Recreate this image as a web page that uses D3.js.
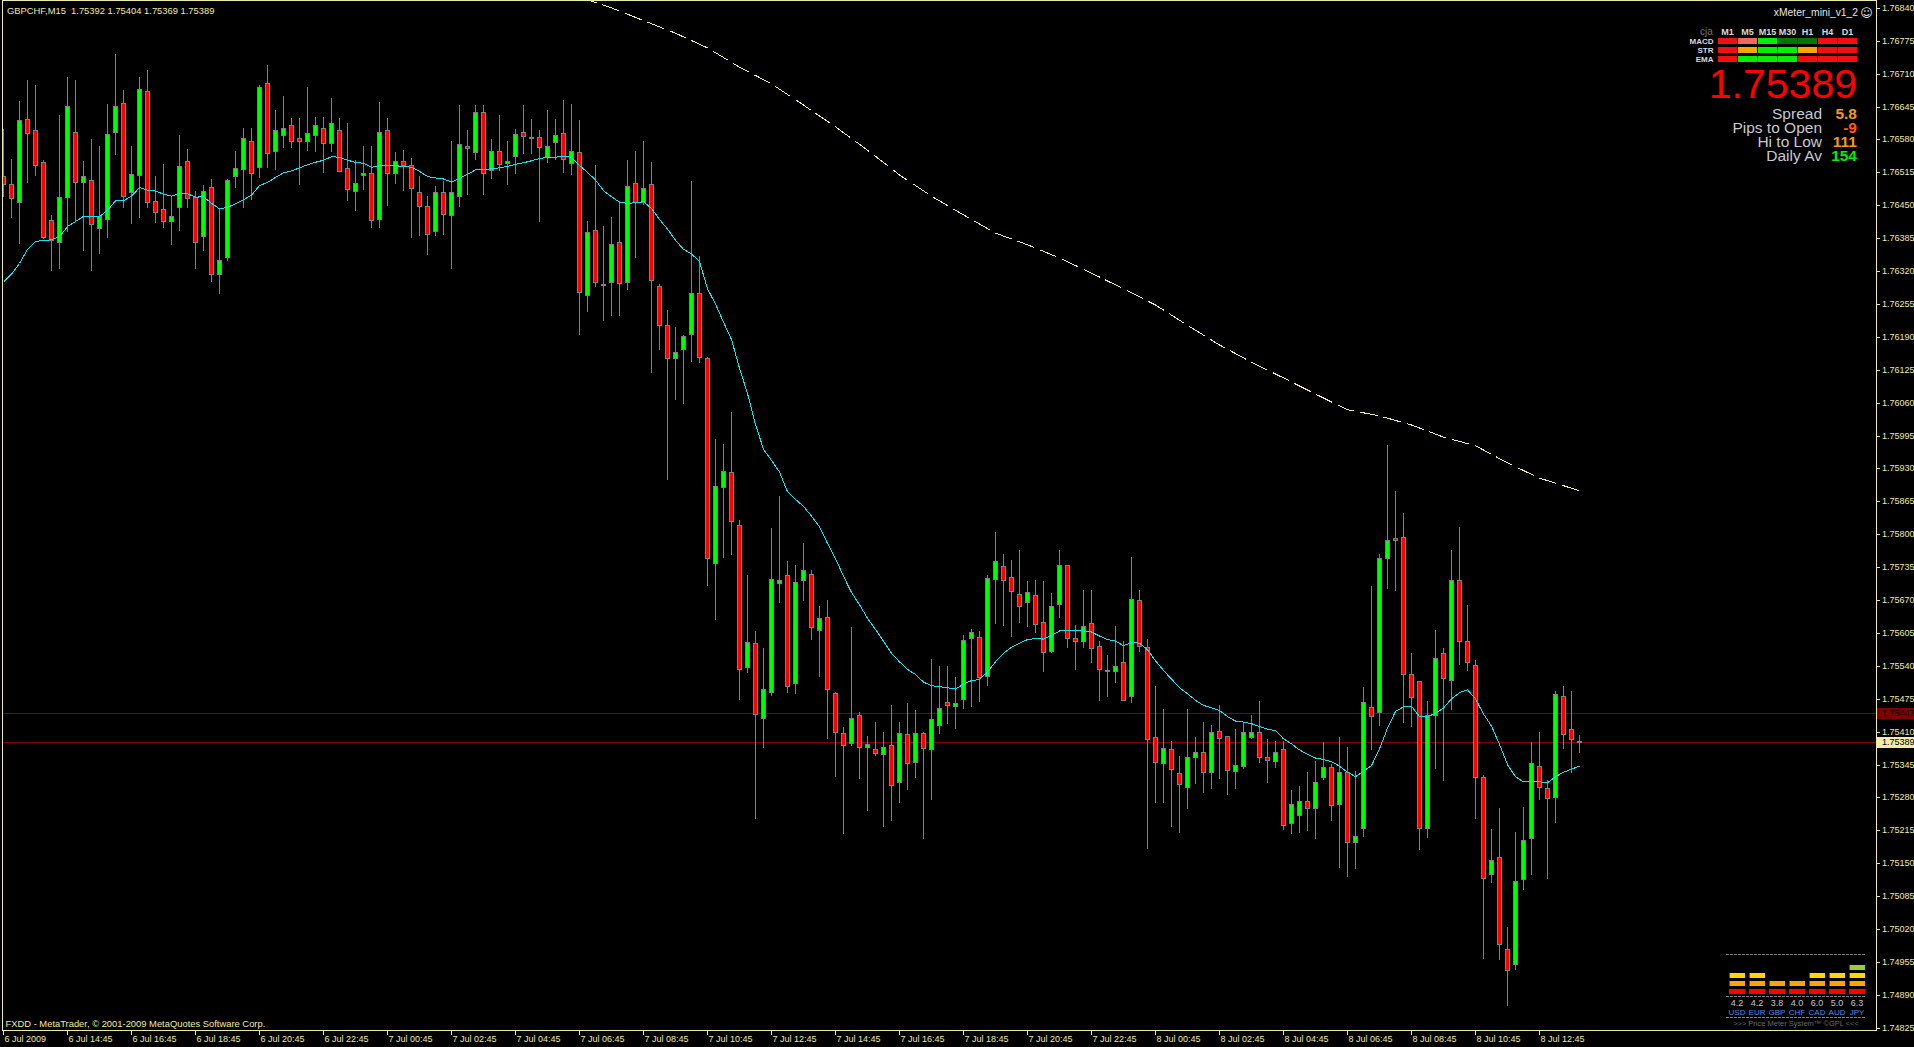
<!DOCTYPE html>
<html><head><meta charset="utf-8">
<script src="https://cdn.jsdelivr.net/npm/d3@7"></script>
<style>
html,body{margin:0;padding:0;background:#000;overflow:hidden}
svg{display:block}
text{font-family:"Liberation Sans",Arial,sans-serif}
</style></head><body>
<svg id="c" width="1914" height="1047"></svg>
<script>
// ---------------- DATA ----------------
const symbolTitle = "GBPCHF,M15  1.75392 1.75404 1.75369 1.75389";
const copyright = "FXDD - MetaTrader, \u00A9 2001-2009 MetaQuotes Software Corp.";
const firstBarTime = new Date(2009, 6, 6, 12, 45); // 15-minute bars
const open = [1.76507,1.76492,1.76457,1.76620,1.76598,1.76535,1.76420,1.76377,1.76466,1.76594,
1.76497,1.76499,1.76406,1.76422,1.76594,1.76653,1.76476,1.76509,1.76675,1.76458,
1.76442,1.76418,1.76446,1.76537,1.76466,1.76389,1.76487,1.76315,1.76347,1.76507,
1.76521,1.76578,1.76525,1.76691,1.76557,1.76588,1.76608,1.76582,1.76578,1.76588,
1.76602,1.76574,1.76598,1.76523,1.76478,1.76509,1.76513,1.76422,1.76598,1.76513,
1.76537,1.76530,1.76477,1.76448,1.76399,1.76477,1.76431,1.76469,1.76568,1.76556,
1.76634,1.76520,1.76558,1.76533,1.76547,1.76595,1.76582,1.76584,1.76546,1.76576,
1.76593,1.76534,1.76556,1.76273,1.76402,1.76295,1.76298,1.76378,1.76298,1.76495,
1.76457,1.76493,1.76290,1.76214,1.76148,1.76166,1.76196,1.76276,1.76149,1.75743,
1.75894,1.75924,1.75819,1.75538,1.75586,1.75437,1.75489,1.75704,1.75719,1.75506,
1.75710,1.75722,1.75611,1.75637,1.75486,1.75407,1.75388,1.75443,1.75380,1.75375,
1.75365,1.75383,1.75311,1.75406,1.75350,1.75407,1.75376,1.75424,1.75469,1.75461,
1.75475,1.75595,1.75597,1.75521,1.75711,1.75737,1.75716,1.75683,1.75667,1.75681,
1.75627,1.75569,1.75663,1.75739,1.75595,1.75589,1.75624,1.75579,1.75531,1.75530,
1.75547,1.75481,1.75670,1.75578,1.75399,1.75348,1.75376,1.75328,1.75300,1.75360,
1.75370,1.75330,1.75411,1.75401,1.75332,1.75343,1.75399,1.75410,1.75360,1.75352,
1.75376,1.75230,1.75245,1.75274,1.75259,1.75320,1.75340,1.75268,1.75330,1.75192,
1.75220,1.75458,1.75448,1.75753,1.75793,1.75794,1.75524,1.75510,1.75220,1.75443,
1.75565,1.75512,1.75710,1.75590,1.75541,1.75320,1.75128,1.75162,1.74980,1.74951,
1.75118,1.75200,1.75342,1.75298,1.75281,1.75480,1.75415,1.75392];
const high = [1.76601,1.76542,1.76656,1.76698,1.76688,1.76540,1.76430,1.76628,1.76703,1.76698,
1.76537,1.76580,1.76567,1.76650,1.76749,1.76677,1.76567,1.76703,1.76717,1.76507,
1.76532,1.76468,1.76589,1.76561,1.76479,1.76490,1.76501,1.76444,1.76501,1.76557,
1.76603,1.76602,1.76688,1.76727,1.76638,1.76666,1.76622,1.76622,1.76684,1.76624,
1.76624,1.76662,1.76622,1.76613,1.76539,1.76567,1.76567,1.76654,1.76622,1.76555,
1.76560,1.76543,1.76508,1.76468,1.76488,1.76498,1.76578,1.76648,1.76598,1.76648,
1.76648,1.76580,1.76629,1.76577,1.76601,1.76648,1.76621,1.76599,1.76639,1.76621,
1.76658,1.76651,1.76619,1.76419,1.76530,1.76410,1.76426,1.76458,1.76540,1.76557,
1.76578,1.76535,1.76295,1.76243,1.76209,1.76194,1.76498,1.76349,1.76151,1.75988,
1.75978,1.76042,1.75828,1.75720,1.75609,1.75575,1.75812,1.75876,1.75748,1.75739,
1.75782,1.75729,1.75659,1.75671,1.75488,1.75420,1.75616,1.75449,1.75402,1.75430,
1.75410,1.75463,1.75429,1.75467,1.75453,1.75409,1.75554,1.75540,1.75540,1.75519,
1.75602,1.75612,1.75609,1.75720,1.75804,1.75761,1.75750,1.75769,1.75708,1.75710,
1.75708,1.75684,1.75769,1.75740,1.75620,1.75689,1.75689,1.75589,1.75561,1.75618,
1.75589,1.75755,1.75690,1.75593,1.75501,1.75455,1.75391,1.75362,1.75455,1.75400,
1.75429,1.75423,1.75463,1.75401,1.75415,1.75429,1.75443,1.75470,1.75395,1.75391,
1.75392,1.75294,1.75302,1.75331,1.75353,1.75389,1.75346,1.75400,1.75379,1.75333,
1.75499,1.75698,1.75761,1.75977,1.75885,1.75842,1.75565,1.75510,1.75471,1.75610,
1.75575,1.75768,1.75814,1.75661,1.75552,1.75324,1.75217,1.75259,1.75024,1.75211,
1.75262,1.75389,1.75410,1.75315,1.75491,1.75500,1.75491,1.75404];
const low = [1.76469,1.76426,1.76376,1.76497,1.76510,1.76386,1.76323,1.76327,1.76400,1.76421,
1.76362,1.76323,1.76356,1.76388,1.76552,1.76446,1.76416,1.76426,1.76447,1.76417,
1.76408,1.76374,1.76402,1.76446,1.76327,1.76362,1.76301,1.76277,1.76341,1.76487,
1.76447,1.76462,1.76505,1.76525,1.76522,1.76566,1.76566,1.76493,1.76559,1.76558,
1.76516,1.76557,1.76517,1.76461,1.76441,1.76483,1.76408,1.76408,1.76451,1.76494,
1.76481,1.76388,1.76392,1.76353,1.76392,1.76394,1.76327,1.76449,1.76472,1.76541,
1.76473,1.76503,1.76519,1.76493,1.76513,1.76554,1.76554,1.76418,1.76535,1.76542,
1.76516,1.76511,1.76196,1.76242,1.76290,1.76223,1.76233,1.76233,1.76284,1.76347,
1.76452,1.76120,1.76167,1.75909,1.76068,1.76059,1.76142,1.76141,1.75699,1.75633,
1.75756,1.75762,1.75474,1.75528,1.75239,1.75379,1.75483,1.75666,1.75488,1.75487,
1.75671,1.75593,1.75520,1.75398,1.75322,1.75209,1.75383,1.75318,1.75255,1.75363,
1.75223,1.75235,1.75272,1.75297,1.75320,1.75199,1.75277,1.75408,1.75428,1.75418,
1.75457,1.75460,1.75471,1.75503,1.75624,1.75621,1.75600,1.75627,1.75618,1.75606,
1.75529,1.75568,1.75637,1.75578,1.75533,1.75578,1.75548,1.75473,1.75480,1.75509,
1.75472,1.75469,1.75569,1.75181,1.75272,1.75271,1.75224,1.75211,1.75260,1.75309,
1.75290,1.75299,1.75319,1.75287,1.75299,1.75338,1.75398,1.75351,1.75310,1.75341,
1.75218,1.75209,1.75212,1.75215,1.75200,1.75317,1.75235,1.75142,1.75125,1.75141,
1.75203,1.75376,1.75423,1.75693,1.75689,1.75429,1.75421,1.75178,1.75202,1.75338,
1.75315,1.75454,1.75544,1.75531,1.75240,1.74963,1.75113,1.74960,1.74871,1.74941,
1.75100,1.75128,1.75277,1.75120,1.75232,1.75378,1.75330,1.75369];
const close = [1.76492,1.76464,1.76618,1.76592,1.76529,1.76388,1.76382,1.76466,1.76647,1.76497,
1.76507,1.76413,1.76428,1.76590,1.76647,1.76468,1.76511,1.76679,1.76456,1.76437,
1.76418,1.76428,1.76527,1.76464,1.76377,1.76478,1.76315,1.76341,1.76499,1.76523,
1.76582,1.76513,1.76683,1.76553,1.76598,1.76602,1.76578,1.76578,1.76592,1.76608,
1.76574,1.76612,1.76517,1.76483,1.76494,1.76513,1.76420,1.76594,1.76513,1.76537,
1.76530,1.76484,1.76449,1.76393,1.76477,1.76433,1.76477,1.76572,1.76564,1.76634,
1.76514,1.76558,1.76531,1.76537,1.76591,1.76586,1.76584,1.76565,1.76568,1.76588,
1.76542,1.76558,1.76279,1.76398,1.76298,1.76293,1.76374,1.76296,1.76489,1.76456,
1.76485,1.76302,1.76213,1.76148,1.76161,1.76192,1.76276,1.76150,1.75754,1.75895,
1.75925,1.75827,1.75534,1.75587,1.75444,1.75494,1.75711,1.75709,1.75500,1.75705,
1.75729,1.75616,1.75634,1.75495,1.75410,1.75384,1.75438,1.75379,1.75386,1.75368,
1.75380,1.75305,1.75407,1.75348,1.75407,1.75378,1.75436,1.75457,1.75462,1.75467,
1.75592,1.75606,1.75518,1.75714,1.75748,1.75709,1.75687,1.75658,1.75686,1.75622,
1.75567,1.75658,1.75739,1.75595,1.75589,1.75618,1.75575,1.75534,1.75529,1.75539,
1.75473,1.75673,1.75579,1.75395,1.75350,1.75378,1.75336,1.75306,1.75360,1.75370,
1.75330,1.75410,1.75397,1.75334,1.75345,1.75409,1.75410,1.75360,1.75355,1.75370,
1.75226,1.75268,1.75274,1.75259,1.75311,1.75340,1.75265,1.75330,1.75192,1.75204,
1.75469,1.75441,1.75753,1.75788,1.75788,1.75524,1.75478,1.75219,1.75443,1.75555,
1.75517,1.75710,1.75589,1.75547,1.75321,1.75121,1.75156,1.74990,1.74939,1.75116,
1.75196,1.75348,1.75300,1.75279,1.75485,1.75405,1.75395,1.75389];
const fastMA = [1.76298,1.76314,1.76335,1.76363,1.76379,1.76380,1.76382,1.76388,1.76408,1.76418,
1.76428,1.76428,1.76428,1.76440,1.76459,1.76459,1.76468,1.76485,1.76480,1.76478,
1.76472,1.76468,1.76473,1.76473,1.76466,1.76467,1.76454,1.76443,1.76446,1.76453,
1.76461,1.76470,1.76489,1.76495,1.76505,1.76514,1.76518,1.76524,1.76530,1.76535,
1.76539,1.76546,1.76545,1.76539,1.76535,1.76533,1.76525,1.76528,1.76528,1.76528,
1.76527,1.76525,1.76517,1.76507,1.76504,1.76502,1.76496,1.76503,1.76511,1.76520,
1.76521,1.76522,1.76524,1.76527,1.76531,1.76534,1.76538,1.76542,1.76545,1.76545,
1.76547,1.76545,1.76529,1.76515,1.76500,1.76479,1.76467,1.76456,1.76454,1.76455,
1.76457,1.76444,1.76422,1.76403,1.76381,1.76363,1.76354,1.76339,1.76285,1.76255,
1.76219,1.76185,1.76128,1.76078,1.76017,1.75968,1.75946,1.75923,1.75884,1.75869,
1.75855,1.75836,1.75815,1.75782,1.75752,1.75717,1.75685,1.75661,1.75634,1.75612,
1.75589,1.75565,1.75548,1.75533,1.75523,1.75508,1.75501,1.75499,1.75497,1.75494,
1.75504,1.75511,1.75513,1.75528,1.75548,1.75565,1.75577,1.75585,1.75592,1.75594,
1.75593,1.75600,1.75609,1.75610,1.75609,1.75609,1.75607,1.75599,1.75592,1.75589,
1.75580,1.75586,1.75585,1.75572,1.75550,1.75531,1.75514,1.75497,1.75485,1.75472,
1.75462,1.75457,1.75452,1.75440,1.75431,1.75429,1.75426,1.75420,1.75415,1.75412,
1.75396,1.75386,1.75374,1.75365,1.75358,1.75355,1.75351,1.75342,1.75330,1.75321,
1.75332,1.75343,1.75376,1.75417,1.75450,1.75459,1.75460,1.75440,1.75440,1.75446,
1.75457,1.75475,1.75487,1.75493,1.75475,1.75445,1.75421,1.75385,1.75345,1.75321,
1.75311,1.75311,1.75311,1.75309,1.75321,1.75330,1.75336,1.75342];
const slowMABars = [72,76,80,84,88,92,96,100,104,108,112,116,120,124,128,132,136,140,144,148,152,156,160,164,168,172,176,180,184,188,192,197];
const slowMAValues = [1.76861,1.76840,1.76815,1.76790,1.76761,1.76723,1.76690,1.76648,1.76605,1.76559,1.76510,1.76468,1.76431,1.76395,1.76372,1.76346,1.76316,1.76285,1.76253,1.76213,1.76174,1.76140,1.76109,1.76077,1.76046,1.76034,1.76016,1.75992,1.75975,1.75941,1.75911,1.75886];
const askPrice = 1.75447, bidPrice = 1.75389;
const timeTickBars = [0,8,16,24,32,40,48,56,64,72,80,88,96,104,112,120,128,136,144,152,160,168,176,184,192];
const timeTickLabels = ["6 Jul 2009","6 Jul 14:45","6 Jul 16:45","6 Jul 18:45","6 Jul 20:45","6 Jul 22:45",
 "7 Jul 00:45","7 Jul 02:45","7 Jul 04:45","7 Jul 06:45","7 Jul 08:45","7 Jul 10:45","7 Jul 12:45",
 "7 Jul 14:45","7 Jul 16:45","7 Jul 18:45","7 Jul 20:45","7 Jul 22:45","8 Jul 00:45","8 Jul 02:45",
 "8 Jul 04:45","8 Jul 06:45","8 Jul 08:45","8 Jul 10:45","8 Jul 12:45"];
const priceMin = 1.74825, priceMax = 1.76840, priceStep = 0.00065;
// xMeter panel
const meterTitle = "xMeter_mini_v1_2";
const timeframes = ["M1","M5","M15","M30","H1","H4","D1"];
const signalRows = ["MACD","STR","EMA"];
const signalStates = [
  ["dn","dn2","up","up2","up2","dn","dn"],
  ["dn","flat","up","up","flat","dn","dn"],
  ["dn","up","up","up","dn","dn","dn"]];
const bigPrice = "1.75389";
const infoLabels = ["Spread","Pips to Open","Hi to Low","Daily Av"];
const infoValues = ["5.8","-9","111","154"];
const infoKinds = ["warn","neg","warn","good"];
// price meter
const currencies = ["USD","EUR","GBP","CHF","CAD","AUD","JPY"];
const currencyStrength = ["4.2","4.2","3.8","4.0","6.0","5.0","6.3"];
const currencyLevels = [3,3,2,2,3,3,4];
const meterCaption = ">>> Price Meter System\u2122 \u00A9GPL <<<";

// ---------------- DRAW ----------------
const W = 1914, H = 1047, FG = "#EEE8AA";
const svg = d3.select("#c");
svg.append("rect").attr("width", W).attr("height", H).attr("fill", "#000");
const barTimes = open.map((d, i) => d3.timeMinute.offset(firstBarTime, 15 * i));

const x = d3.scaleLinear().domain([0, open.length - 1]).range([3.5, 3.5 + 8 * (open.length - 1)]);
const y = d3.scaleLinear().domain([priceMin, priceMax]).range([1027.8, 7.9]);
const yr = y.copy().interpolate(d3.interpolateRound);

svg.append("defs").append("clipPath").attr("id", "pc")
  .append("rect").attr("x", 3).attr("y", 1).attr("width", 1873).attr("height", 1029);
const g = svg.append("g").attr("clip-path", "url(#pc)").attr("shape-rendering", "crispEdges");

// bid / ask lines
[askPrice, bidPrice].forEach(p => {
  g.append("line").attr("x1", 3).attr("x2", 1877)
    .attr("y1", yr(p) + 0.5).attr("y2", yr(p) + 0.5)
    .attr("stroke", "#800000").attr("stroke-width", 1);
});

// slow (dashed) MA
const slowData = slowMABars.map((b, i) => [b, slowMAValues[i]]);
g.append("path").datum(slowData)
  .attr("d", d3.line().x(d => x(d[0])).y(d => y(d[1])))
  .attr("fill", "none").attr("stroke", FG).attr("stroke-width", 1)
  .attr("stroke-dasharray", "18,6");

// candles
const bars = open.map((o, i) => ({ i, t: barTimes[i], o, h: high[i], l: low[i], c: close[i] }));
const cg = g.selectAll("g.candle").data(bars).join("g").attr("class", "candle");
cg.append("line")
  .attr("x1", d => x(d.i)).attr("x2", d => x(d.i))
  .attr("y1", d => yr(d.h)).attr("y2", d => yr(d.l) + 1)
  .attr("stroke", "#808080").attr("stroke-width", 1);
cg.append("path")
  .attr("d", d => {
    const t = yr(Math.max(d.o, d.c)) + 0.5, b = yr(Math.min(d.o, d.c)) + 0.5;
    const cx = x(d.i);
    return `M${cx - 2},${t}H${cx + 2}V${b}H${cx - 2}Z`;
  })
  .attr("fill", d => d.c >= d.o ? "#00FF00" : "#FF0000")
  .attr("stroke", "#808080").attr("stroke-width", 1);

// fast MA
g.append("path").datum(fastMA)
  .attr("d", d3.line().x((d, i) => x(i)).y(d => y(d)))
  .attr("fill", "none").attr("stroke", "#12E2F2").attr("stroke-width", 1);

// frame
svg.append("rect").attr("x", 2.5).attr("y", 0.5).attr("width", 1874).attr("height", 1030)
  .attr("fill", "none").attr("stroke", FG).attr("stroke-width", 1).attr("shape-rendering", "crispEdges");

// x axis
const xAxis = d3.axisBottom(x).tickValues(timeTickBars)
  .tickFormat((d, i) => timeTickLabels[i]).tickSize(4).tickSizeOuter(0).offset(0);
const gx = svg.append("g").attr("transform", "translate(0,1030.5)").call(xAxis);
gx.select(".domain").remove();
gx.selectAll(".tick line").attr("stroke", FG).attr("shape-rendering", "crispEdges");
gx.selectAll(".tick text").attr("fill", FG).attr("text-anchor", "start")
  .attr("x", 1).attr("y", 5.5).attr("dy", "0.71em")
  .style("font-family", "'Liberation Sans',Arial,sans-serif").style("font-size", "9px");

// y axis (right)
const priceTicks = d3.range(0, Math.round((priceMax - priceMin) / priceStep) + 1).map(i => priceMin + i * priceStep);
const yAxis = d3.axisRight(yr).tickValues(priceTicks).tickFormat(d3.format(".5f")).tickSize(3).tickSizeOuter(0).offset(0);
const gy = svg.append("g").attr("transform", "translate(1876.5,0.5)").call(yAxis);
gy.select(".domain").remove();
gy.selectAll(".tick line").attr("stroke", FG).attr("shape-rendering", "crispEdges");
gy.selectAll(".tick text").attr("fill", FG).attr("x", 5.5).attr("dy", "0.33em")
  .style("font-family", "'Liberation Sans',Arial,sans-serif").style("font-size", "9px");

// price boxes
[[askPrice, "#800000", "#000"], [bidPrice, "#F2EBA8", "#000"]].forEach(([p, bg, fg]) => {
  const yy = yr(p);
  svg.append("rect").attr("x", 1877).attr("y", yy - 5).attr("width", 37).attr("height", 11).attr("fill", bg);
  svg.append("text").attr("x", 1882).attr("y", yy + 0.5).attr("dy", "0.33em").attr("fill", fg)
    .style("font-size", "9px").text(d3.format(".5f")(p));
});

// title & copyright
svg.append("text").attr("x", 7).attr("y", 14).attr("fill", FG).style("font-size", "9.4px")
  .style("white-space", "pre").text(symbolTitle);
svg.append("text").attr("x", 5.5).attr("y", 1026.5).attr("fill", FG).style("font-size", "9.4px")
  .text(copyright);

// ---------- xMeter panel ----------
const pm = svg.append("g");
pm.append("text").attr("x", 1858).attr("y", 15.5).attr("text-anchor", "end").attr("fill", "#E6E6E6")
  .style("font-size", "10.3px").text(meterTitle);
pm.append("text").attr("x", 1866.5).attr("y", 16.5).attr("text-anchor", "middle").attr("fill", "#E6E6E6")
  .style("font-family", "'DejaVu Sans',sans-serif").style("font-size", "12px").text("\u263A");
pm.append("text").attr("x", 1700).attr("y", 34.5).attr("fill", "#707080").style("font-size", "10px").text("cja");
const colX = i => 1718 + 20 * i;
pm.selectAll("text.tf").data(timeframes).join("text").attr("class", "tf")
  .attr("x", (d, i) => colX(i) + 9.5).attr("y", 34.5).attr("text-anchor", "middle")
  .attr("fill", "#D8D8D8").style("font-size", "9px").style("font-weight", "bold").text(d => d);
const stateColor = { dn: "#F01010", dn2: "#F2685A", up: "#00F000", up2: "#007800", flat: "#FFA500" };
signalRows.forEach((r, j) => {
  const ry = 38 + 9 * j;
  pm.append("text").attr("x", 1713.5).attr("y", ry + 6).attr("text-anchor", "end").attr("fill", "#D8D8D8")
    .style("font-size", "8px").style("font-weight", "bold").text(r);
  pm.selectAll("rect.s" + j).data(signalStates[j]).join("rect").attr("class", "s" + j)
    .attr("x", (d, i) => colX(i)).attr("y", ry).attr("width", 19).attr("height", 6)
    .attr("fill", d => stateColor[d]);
});
pm.append("text").attr("x", 1857).attr("y", 97.5).attr("text-anchor", "end").attr("fill", "#FF0000")
  .style("font-size", "41px").text(bigPrice);
const kindColor = { warn: "#F39A1E", neg: "#FF5A14", good: "#00F000" };
infoLabels.forEach((lab, i) => {
  const by = 118.5 + 14.3 * i;
  pm.append("text").attr("x", 1822).attr("y", by).attr("text-anchor", "end").attr("fill", "#C8C8D2")
    .style("font-size", "15.5px").text(lab);
  pm.append("text").attr("x", 1857).attr("y", by).attr("text-anchor", "end").attr("fill", kindColor[infoKinds[i]])
    .style("font-size", "15.5px").style("font-weight", "bold").text(infoValues[i]);
});

// ---------- price meter ----------
const mg = svg.append("g");
const levelColor = ["#FF0000", "#FFA500", "#FFD700", "#9ACD32"];
[954.5, 996.5, 1017.5].forEach(yy => {
  mg.append("line").attr("x1", 1726).attr("x2", 1866).attr("y1", yy).attr("y2", yy)
    .attr("stroke", "#808080").attr("stroke-dasharray", "3,1").attr("shape-rendering", "crispEdges");
});
currencies.forEach((c, i) => {
  const cx = 1729 + 20 * i;
  for (let lv = 0; lv < currencyLevels[i]; lv++) {
    mg.append("rect").attr("x", cx).attr("y", 989 - 8 * lv).attr("width", 16).attr("height", 5)
      .attr("fill", levelColor[lv]);
    mg.append("rect").attr("x", cx).attr("y", 989 - 8 * lv).attr("width", 1).attr("height", 5)
      .attr("fill", "#1E6E1E");
  }
  mg.append("text").attr("x", cx + 8).attr("y", 1005.5).attr("text-anchor", "middle").attr("fill", "#C8C8C8")
    .style("font-size", "9px").text(currencyStrength[i]);
  mg.append("text").attr("x", cx + 8).attr("y", 1015).attr("text-anchor", "middle").attr("fill", "#4F8FE6")
    .style("font-size", "8px").text(c);
});
mg.append("text").attr("x", 1796).attr("y", 1026).attr("text-anchor", "middle").attr("fill", "#6A6A6A")
  .style("font-size", "7.5px").text(meterCaption);
</script>
</body></html>
